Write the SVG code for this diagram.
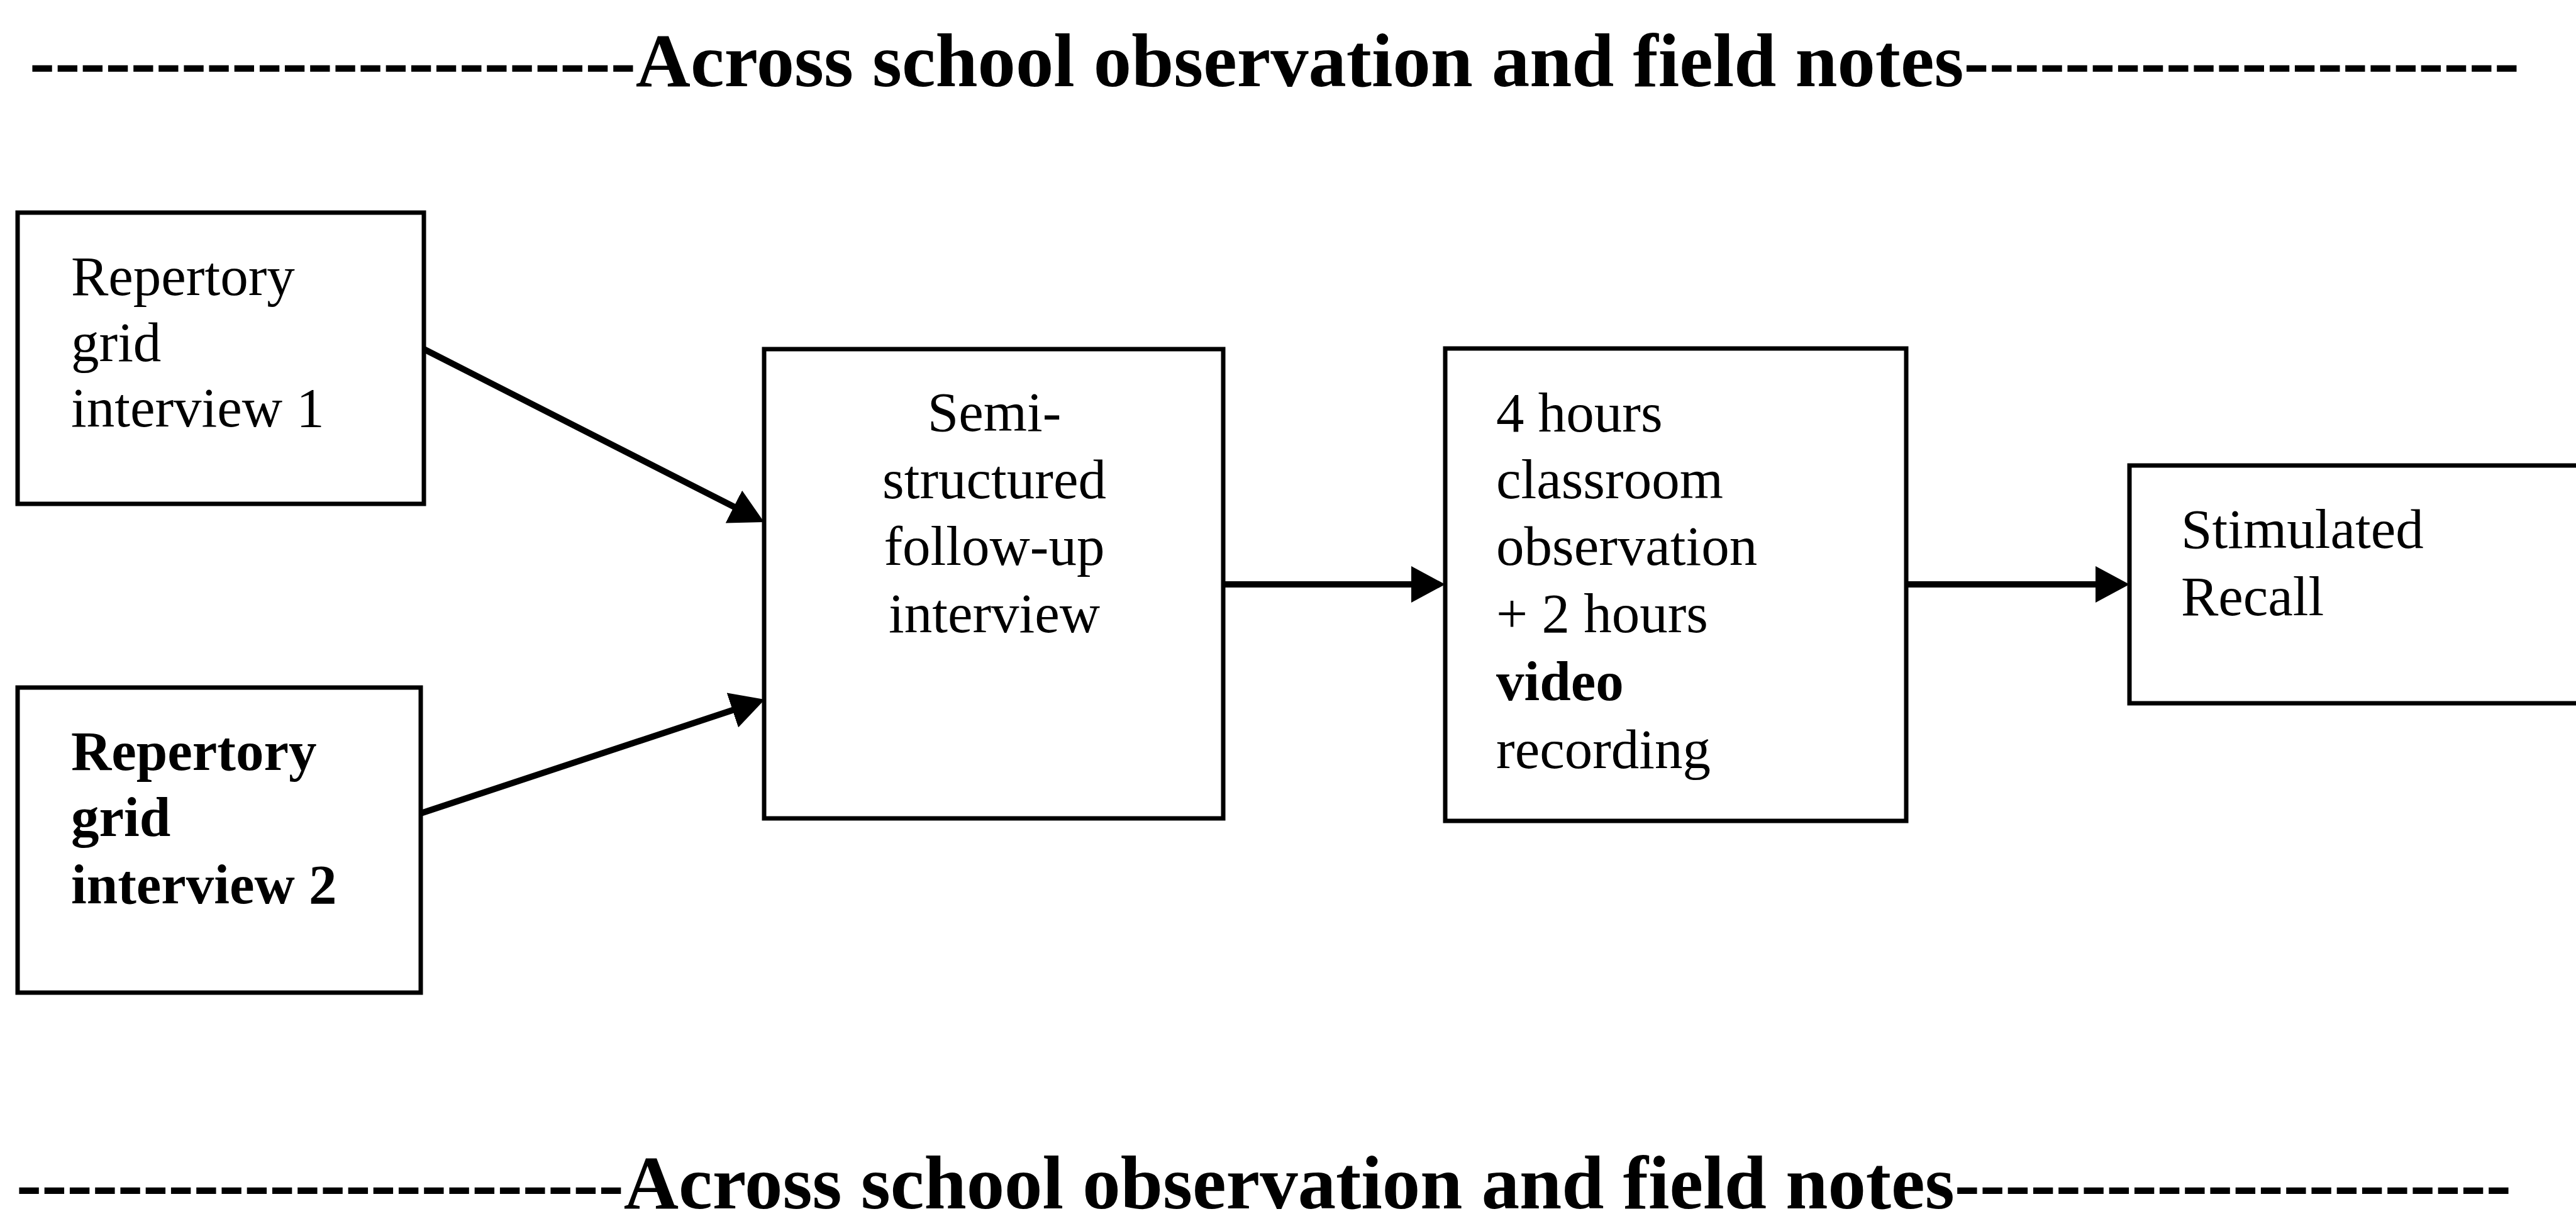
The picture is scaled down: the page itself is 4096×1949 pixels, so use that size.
<svg xmlns="http://www.w3.org/2000/svg" width="4096" height="1949" viewBox="0 0 4096 1949">
<style>
.box{fill:#fff;stroke:#000;stroke-width:7}
.t{font-family:"Liberation Serif","Times New Roman",serif;font-size:89px;fill:#000}
.b{font-weight:bold}
.title{font-family:"Liberation Serif","Times New Roman",serif;font-size:120.5px;font-weight:bold;fill:#000}
.conn{stroke:#000;stroke-width:10;fill:none;marker-end:url(#ah)}
</style>
<defs>
<marker id="ah" viewBox="0 0 54 58" refX="27" refY="29" markerWidth="54" markerHeight="58" markerUnits="userSpaceOnUse" orient="auto">
<path d="M0,0 L54,29 L0,58 z" fill="#000"/>
</marker>
</defs>
<rect width="4096" height="1949" fill="#fff"/>
<text id="title-top" class="title" x="47" y="137" textLength="3959" lengthAdjust="spacingAndGlyphs">------------------------Across school observation and field notes----------------------</text>
<g id="n1">
<rect class="box" x="28" y="338" width="646" height="463"/>
<text class="t" x="113" y="469">Repertory</text>
<text class="t" x="113" y="573.5">grid</text>
<text class="t" x="113" y="678">interview 1</text>
</g>
<g id="n2">
<rect class="box" x="28" y="1093" width="641" height="485"/>
<text class="t b" x="113" y="1224">Repertory</text>
<text class="t b" x="113" y="1329">grid</text>
<text class="t b" x="113" y="1436">interview 2</text>
</g>
<g id="n3">
<rect class="box" x="1215" y="555" width="730" height="746"/>
<text class="t" x="1581" y="685" text-anchor="middle">Semi-</text>
<text class="t" x="1581" y="792" text-anchor="middle">structured</text>
<text class="t" x="1581" y="898" text-anchor="middle">follow-up</text>
<text class="t" x="1581" y="1005" text-anchor="middle">interview</text>
</g>
<g id="n4">
<rect class="box" x="2298" y="554" width="733" height="751"/>
<text class="t" x="2379" y="686">4 hours</text>
<text class="t" x="2379" y="792">classroom</text>
<text class="t" x="2379" y="898">observation</text>
<text class="t" x="2379" y="1005">+ 2 hours</text>
<text class="t b" x="2379" y="1113">video</text>
<text class="t" x="2379" y="1221">recording</text>
</g>
<g id="n5">
<rect class="box" x="3386" y="740" width="800" height="378"/>
<text class="t" x="3468" y="871">Stimulated</text>
<text class="t" x="3468" y="978">Recall</text>
</g>
<g id="connectors">
<line class="conn" x1="674" y1="555" x2="1190.9" y2="817.8"/>
<line class="conn" x1="669" y1="1293" x2="1190.4" y2="1120.5"/>
<line class="conn" x1="1945" y1="929" x2="2271" y2="929"/>
<line class="conn" x1="3031" y1="929" x2="3359" y2="929"/>
</g>
<text id="title-bottom" class="title" x="26" y="1921" textLength="3967" lengthAdjust="spacingAndGlyphs">------------------------Across school observation and field notes----------------------</text>
</svg>
